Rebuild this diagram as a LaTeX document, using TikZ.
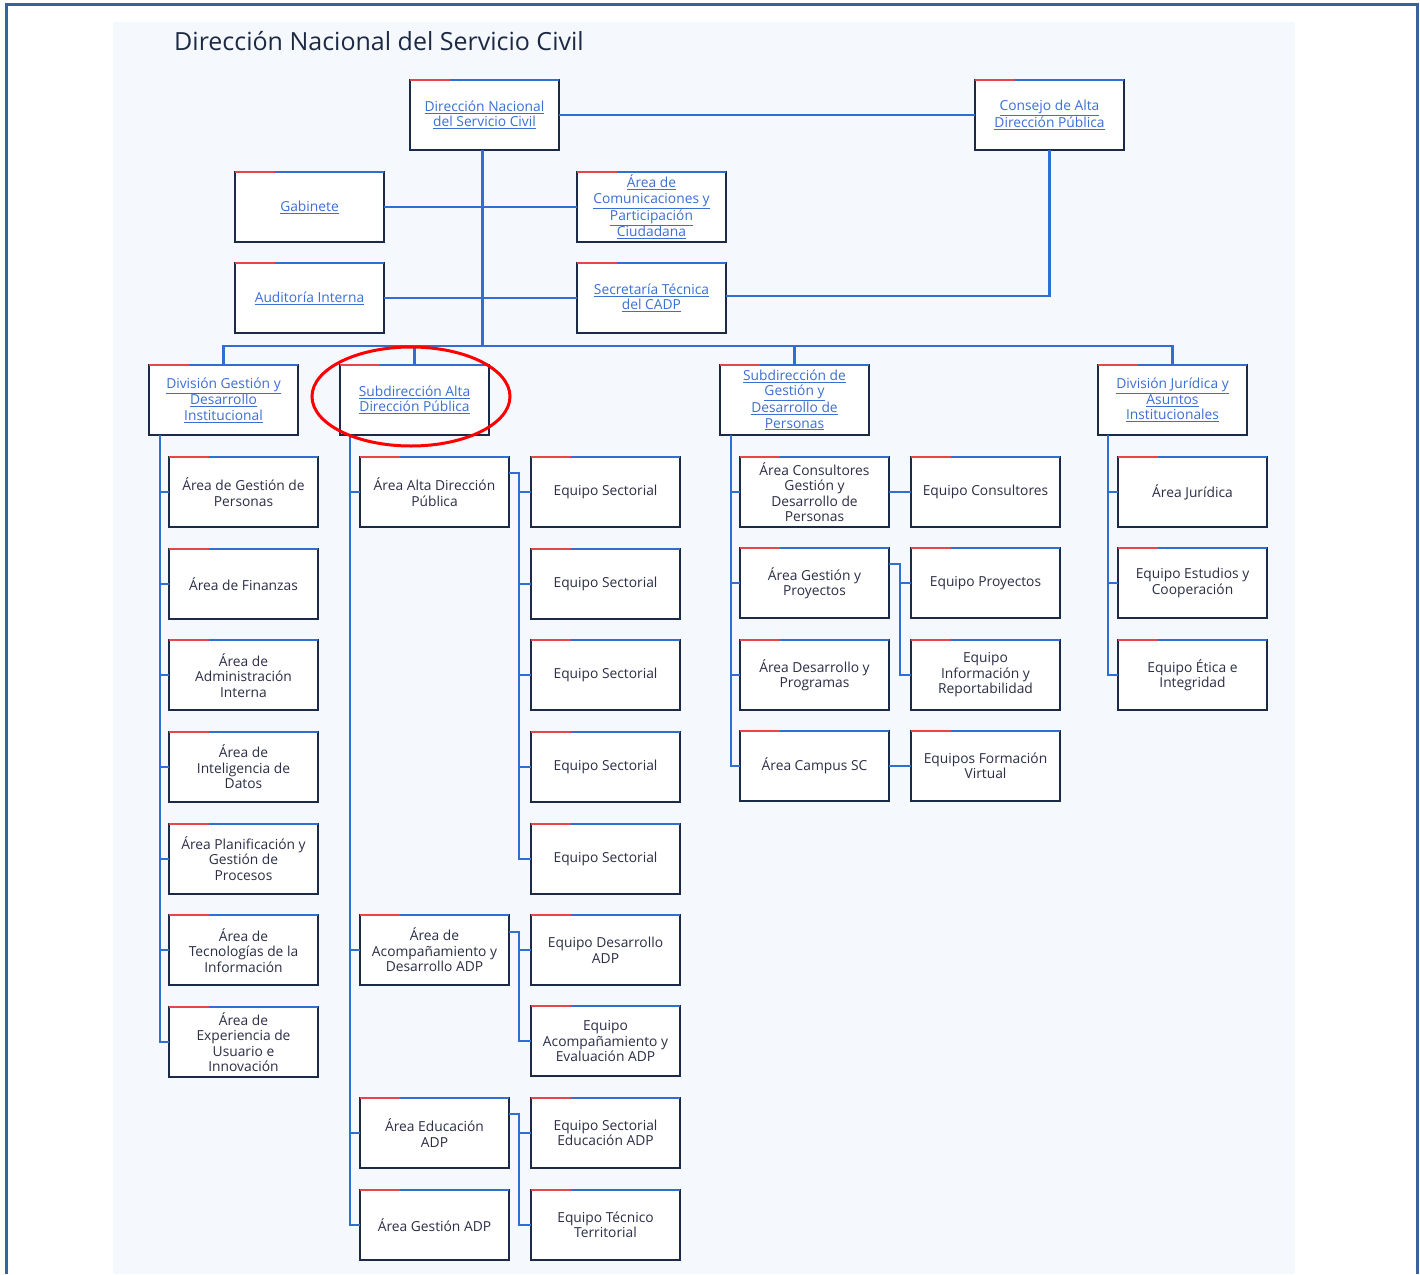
\documentclass[tikz,border=0pt]{standalone}
\usepackage{fontspec}
\setmainfont{Open Sans}
\usetikzlibrary{calc}
\definecolor{navy}{HTML}{1B2A47}
\definecolor{topred}{HTML}{E8454A}
\definecolor{lineblue}{HTML}{2F6FD1}
\definecolor{linktxt}{HTML}{3B6FD3}
\definecolor{boxtxt}{HTML}{2B2E45}
\definecolor{titletxt}{HTML}{1E2A44}
\definecolor{pagebg}{HTML}{F5F9FE}
\definecolor{framecol}{HTML}{35639A}
\newcommand{\lk}[1]{\underline{#1}}

\begin{document}
\begin{tikzpicture}[x=1pt, y=-1pt,
	box/.style={draw=navy, line width=2pt, fill=white, outer sep=0pt, inner sep=1pt,
		minimum width=149pt, minimum height=70pt, align=center, text=boxtxt,
		font=\fontsize{13.8}{15.5}\selectfont},
	head/.style={box, text=linktxt},
	link/.style={draw=lineblue, line width=2.1pt}]
	%%%	Help Lines
%	\draw [thin, help lines] (0,0) grid[step=100] (1420,1274);
	%%%	Fondo
	\useasboundingbox (0,0) rectangle (1420,1274);
	\fill[pagebg] (113,22) rectangle (1295,1274);
	\draw[framecol, line width=3pt] (6,1274) -- (6,4) -- (1417,4) -- (1417,1274);
	\node[anchor=west, inner sep=0pt, text=titletxt, font=\fontsize{25}{28}\selectfont] (titulo) at (174,41) {Dirección Nacional del Servicio Civil};
	%%%	Cajas superiores
	\node[head] (dn) at (484.5,115) {\lk{Dirección Nacional}\\\lk{del Servicio Civil}};
	\node[head] (cadp) at (1049.5,115) {\lk{Consejo de Alta}\\\lk{Dirección Pública}};
	\node[head] (gab) at (309.5,207) {\lk{Gabinete}};
	\node[head] (com) at (651.5,207) {\lk{Área de}\\\lk{Comunicaciones y}\\\lk{Participación}\\\lk{Ciudadana}};
	\node[head] (aud) at (309.5,298) {\lk{Auditoría Interna}};
	\node[head] (sec) at (651.5,298) {\lk{Secretaría Técnica}\\\lk{del CADP}};
	\node[head] (dgdi) at (223.5,400) {\lk{División Gestión y}\\\lk{Desarrollo}\\\lk{Institucional}};
	\node[head] (sadp) at (414.5,400) {\lk{Subdirección Alta}\\\lk{Dirección Pública}};
	\node[head] (sgdp) at (794.5,400) {\lk{Subdirección de}\\\lk{Gestión y}\\\lk{Desarrollo de}\\\lk{Personas}};
	\node[head] (djai) at (1172.5,400) {\lk{División Jurídica y}\\\lk{Asuntos}\\\lk{Institucionales}};
	\coordinate (bus) at (0,346);
	%%%	Division Gestion y Desarrollo Institucional
	\foreach \t [count=\i] in {{Área de Gestión de\\Personas}, {Área de Finanzas},
		{Área de\\Administración\\Interna}, {Área de\\Inteligencia de\\Datos},
		{Área Planificación y\\Gestión de\\Procesos}, {Área de\\Tecnologías de la\\Información},
		{Área de\\Experiencia de\\Usuario e\\Innovación}}
		\node[box] (d\i) at (243.5,{492+(\i-1)*91.65}) {\t};
	%%%	Subdireccion Alta Direccion Publica
	\node[box] (s1) at (434.5,492) {Área Alta Dirección\\Pública};
	\node[box] (s6) at (434.5,950) {Área de\\Acompañamiento y\\Desarrollo ADP};
	\node[box] (s8) at (434.5,1133) {Área Educación\\ADP};
	\node[box] (s9) at (434.5,1225) {Área Gestión ADP};
	\foreach \i in {1,...,5}
		\node[box] (e\i) at (605.5,{492+(\i-1)*91.65}) {Equipo Sectorial};
	\node[box] (e6) at (605.5,950) {Equipo Desarrollo\\ADP};
	\node[box] (e7) at (605.5,1041) {Equipo\\Acompañamiento y\\Evaluación ADP};
	\node[box] (e8) at (605.5,1133) {Equipo Sectorial\\Educación ADP};
	\node[box] (e9) at (605.5,1225) {Equipo Técnico\\Territorial};
	%%%	Subdireccion Gestion y Desarrollo de Personas
	\node[box] (g1) at (814.5,492) {Área Consultores\\Gestión y\\Desarrollo de\\Personas};
	\node[box] (g2) at (814.5,583) {Área Gestión y\\Proyectos};
	\node[box] (g3) at (814.5,675) {Área Desarrollo y\\Programas};
	\node[box] (g4) at (814.5,766) {Área Campus SC};
	\node[box] (q1) at (985.5,492) {Equipo Consultores};
	\node[box] (q2) at (985.5,583) {Equipo Proyectos};
	\node[box] (q3) at (985.5,675) {Equipo\\Información y\\Reportabilidad};
	\node[box] (q4) at (985.5,766) {Equipos Formación\\Virtual};
	%%%	Division Juridica
	\node[box] (j1) at (1192.5,492) {Área Jurídica};
	\node[box] (j2) at (1192.5,583) {Equipo Estudios y\\Cooperación};
	\node[box] (j3) at (1192.5,675) {Equipo Ética e\\Integridad};
	%%%	Lineas
	\draw[link] (dn.east) -- (cadp.west);
	\draw[link] ($(dn.south)+(-2,0)$) -- ($(dn.south |- bus)+(-2,0)$);
	\draw[link] (gab.east) -- (com.west);
	\draw[link] (aud.east) -- (sec.west);
	\draw[link] (cadp.south) |- ($(sec.east)+(0,-2)$);
	\draw[link] (dgdi.north) -- (dgdi.north |- bus) -- (djai.north |- bus) -- (djai.north);
	\draw[link] (sadp.north |- bus) -- (sadp.north);
	\draw[link] (sgdp.north |- bus) -- (sgdp.north);
	\foreach \c in {d1,d2,d3,d4,d5,d6,d7}
		\draw[link] ($(dgdi.south west)+(11,0)$) |- (\c.west);
	\foreach \c in {s1,s6,s8,s9}
		\draw[link] ($(sadp.south west)+(10,0)$) |- (\c.west);
	\foreach \c in {e1,e2,e3,e4,e5}
		\draw[link] ($(s1.north east)+(0,16)$) -- ++(10,0) |- (\c.west);
	\foreach \c in {e6,e7}
		\draw[link] ($(s6.north east)+(0,17)$) -- ++(10,0) |- (\c.west);
	\foreach \c in {e8,e9}
		\draw[link] ($(s8.north east)+(0,16)$) -- ++(10,0) |- (\c.west);
	\foreach \c in {g1,g2,g3,g4}
		\draw[link] ($(sgdp.south west)+(11,0)$) |- (\c.west);
	\draw[link] (g1.east) -- (q1.west);
	\draw[link] (g4.east) -- (q4.west);
	\foreach \c in {q2,q3}
		\draw[link] ($(g2.north east)+(0,16)$) -- ++(11,0) |- (\c.west);
	\foreach \c in {j1,j2,j3}
		\draw[link] ($(djai.south west)+(10,0)$) |- (\c.west);
	%%%	Borde superior rojo y azul
	\foreach \n in {dn,cadp,gab,com,aud,sec,dgdi,sadp,sgdp,djai,d1,d2,d3,d4,d5,d6,d7,
		s1,s6,s8,s9,e1,e2,e3,e4,e5,e6,e7,e8,e9,g1,g2,g3,g4,q1,q2,q3,q4,j1,j2,j3}{
		\draw[topred, line width=2pt] (\n.north west) -- ++(40,0);
		\draw[lineblue, line width=2pt] ($(\n.north west)+(40,0)$) -- (\n.north east);
	}
	%%%	Marca
	\draw[red, line width=3pt] (411,396.5) ellipse [x radius=99pt, y radius=49.5pt];
\end{tikzpicture}
\end{document}
